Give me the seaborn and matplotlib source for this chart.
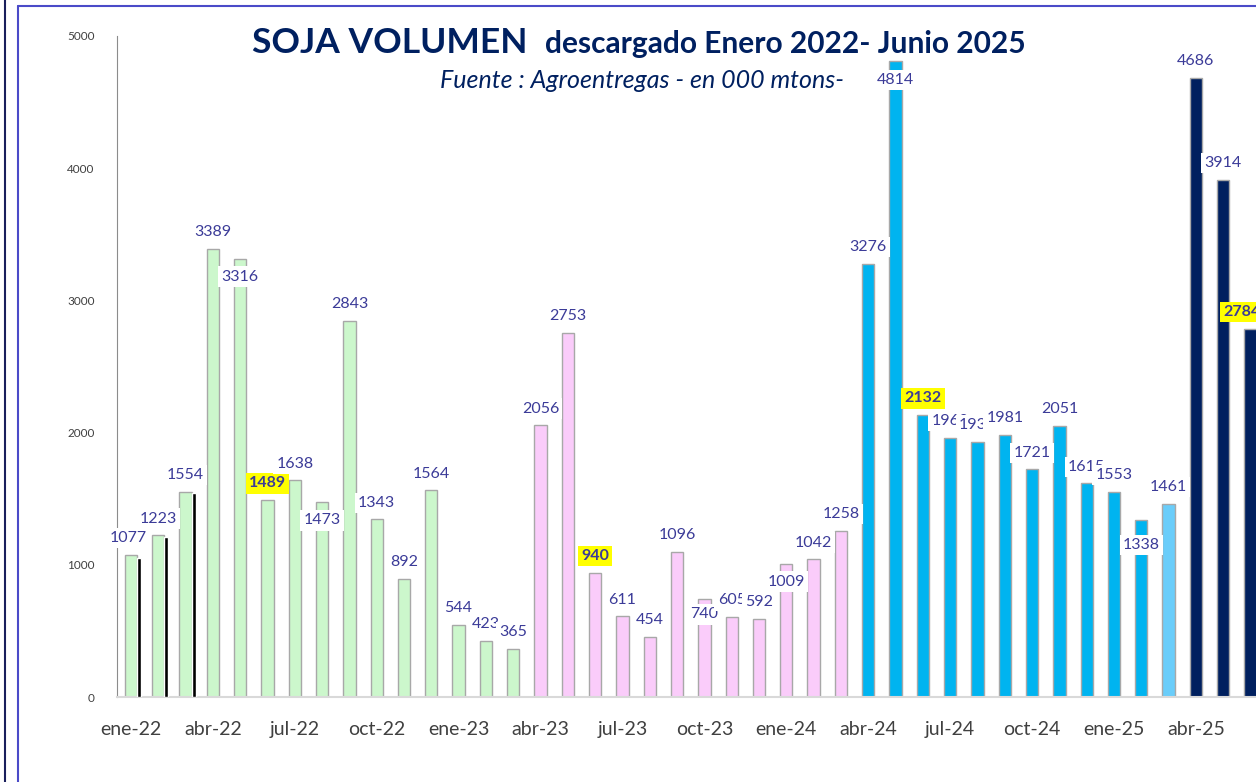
import numpy as np
import pandas as pd
import matplotlib
matplotlib.use('Agg')
import matplotlib.pyplot as plt
import seaborn as sns
from matplotlib.lines import Line2D

sns.set_style('white')
plt.rcParams['font.family'] = ['Lato', 'DejaVu Sans']

# datos (miles de toneladas)
meses = ['ene', 'feb', 'mar', 'abr', 'may', 'jun', 'jul', 'ago', 'sep', 'oct', 'nov', 'dic']
etiquetas = [f'{m}-{a}' for a in ['22', '23', '24', '25'] for m in meses][:42]

volumen = [1077, 1223, 1554, 3389, 3316, 1489, 1638, 1473, 2843, 1343, 892, 1564,
           544, 423, 365, 2056, 2753, 940, 611, 454, 1096, 740, 605, 592,
           1009, 1042, 1258, 3276, 4814, 2132, 1960, 1930, 1981, 1721, 2051, 1615,
           1553, 1338, 1461, 4686, 3914, 2784]

# serie negra ene-mar 22
negro = [1050, 1210, 1545]

# campaña de cada mes
grupo = ['22/23'] * 15 + ['23/24'] * 12 + ['24/25'] * 11 + ['24/25b'] + ['25/26'] * 3

destacados = ['jun-22', 'jun-23', 'jun-24', 'jun-25']

colores = {'22/23': '#CCF7CC', '23/24': '#FACCFA', '24/25': '#00B4F0',
           '24/25b': '#6ACDFA', '25/26': '#00205F'}
# posicion de etiquetas distinta a la estandar (dx, dy en puntos)
offset_label = {'ene-22': (-2, 12), 'may-22': (0, -13), 'ago-22': (0, -13),
                'oct-23': (0, -11), 'ene-24': (0, -13), 'may-24': (0, -14),
                'feb-25': (0, -18), 'jun-25': (-6, 12)}

df = pd.DataFrame({'mes': etiquetas, 'volumen': volumen, 'grupo': grupo})

fig = plt.figure(figsize=(12.56, 7.82), dpi=100)
ax = fig.add_axes([117 / 1256, 1 - 697 / 782, (1256 - 117) / 1256, (697 - 36) / 782])

sns.barplot(data=df, x='mes', y='volumen', hue='grupo', palette=colores, dodge=False,
            saturation=1, width=0.45, edgecolor='#a8a8a8', linewidth=1, legend=False,
            ax=ax, zorder=2)

ax.bar(np.arange(len(negro)) + 0.3, negro, width=0.15, color='black', zorder=3)

for i, (m, v) in enumerate(zip(etiquetas, volumen)):
    dx, dy = offset_label.get(m, (0, 12))
    dest = m in destacados
    ax.annotate(f'{v}', (i, v), xytext=(dx, dy), textcoords='offset points',
                ha='center', va='center', fontsize=11.5, color='#3b3b98',
                fontweight='bold' if dest else 'normal',
                bbox=dict(boxstyle='square,pad=0.2', fc='#FFFF00' if dest else 'white', ec='none'),
                annotation_clip=False, zorder=5)

ax.set_xlim(-0.51, 41.2)
ax.set_ylim(0, 5000)
ax.set_xticks(range(0, 42, 3))
ax.set_xticklabels(etiquetas[::3], fontsize=14, color='#404040')
ax.set_yticks(range(0, 5001, 1000))
ax.set_yticklabels([str(t) for t in range(0, 5001, 1000)], fontsize=8.5, color='#404040')
ax.tick_params(axis='x', length=0, pad=17)
ax.tick_params(axis='y', length=0, pad=16)
ax.set_xlabel('')
ax.set_ylabel('')
for s in ['top', 'right']:
    ax.spines[s].set_visible(False)
ax.spines['left'].set_color('#8c8c8c')
ax.spines['left'].set_linewidth(0.8)
ax.spines['bottom'].set_color('#d9d9d9')
ax.spines['bottom'].set_linewidth(1.5)

# titulos
fig.text(252 / 1256, 1 - 53 / 782, 'SOJA VOLUMEN', fontsize=25.5, fontweight='bold',
         color='#002060', ha='left', va='baseline')
fig.text(545 / 1256, 1 - 53 / 782, 'descargado Enero 2022- Junio 2025', fontsize=21.5,
         fontweight='bold', color='#002060', ha='left', va='baseline')
fig.text(642 / 1256, 1 - 80 / 782, 'Fuente : Agroentregas - en 000 mtons-', fontsize=18,
         style='italic', color='#002060', ha='center', va='center')

# marco
fig.add_artist(Line2D([5 / 1256] * 2, [0, 1], color='#1a1f5c', lw=1.5))
fig.add_artist(Line2D([18 / 1256] * 2, [0, 1 - 6 / 782], color='#4b4bc8', lw=1.5))
fig.add_artist(Line2D([18 / 1256, 1], [1 - 6 / 782] * 2, color='#4b4bc8', lw=1.5))

plt.savefig('out.png', dpi=100)
